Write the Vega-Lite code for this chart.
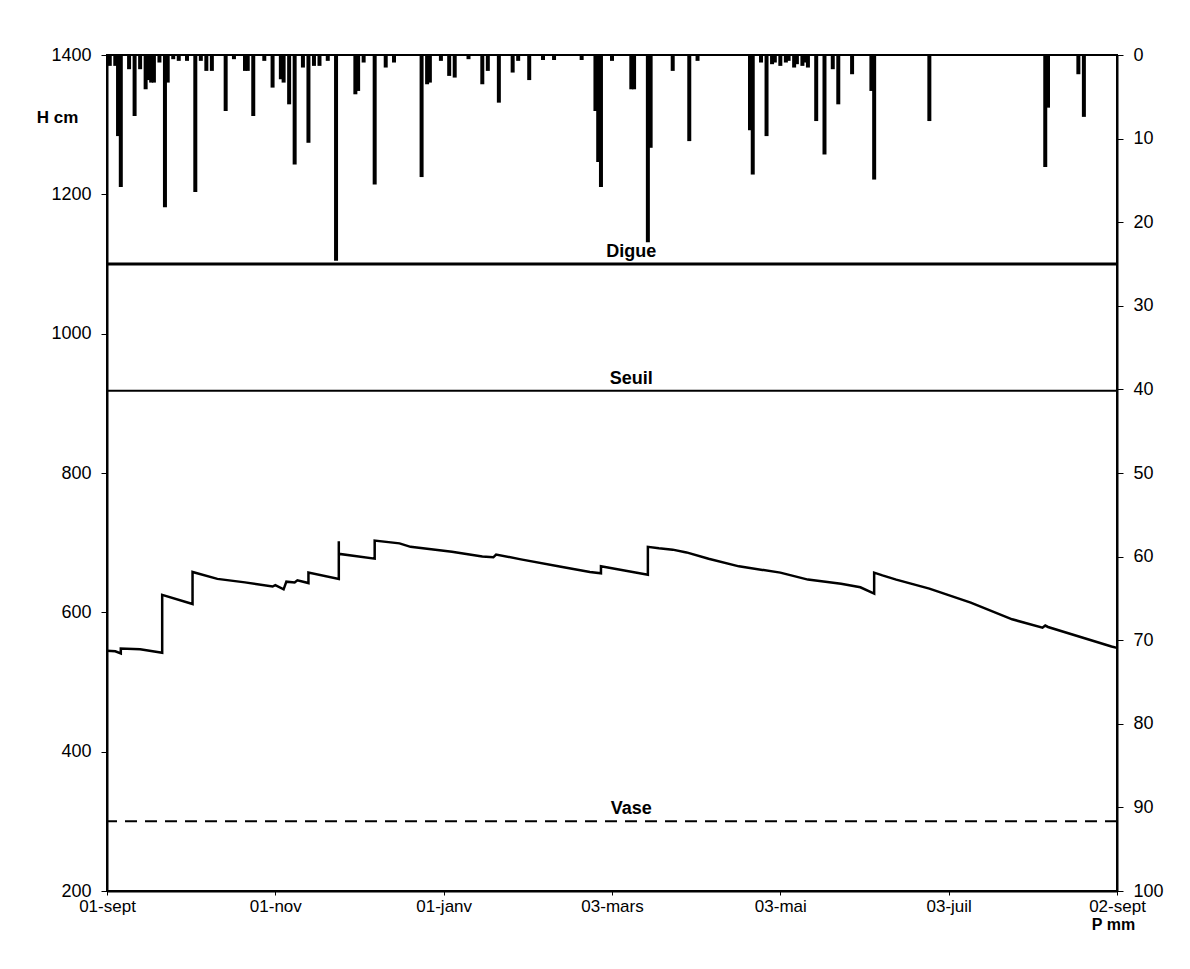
{
  "$schema": "https://vega.github.io/schema/vega-lite/v6.json",
  "width": 1010,
  "height": 836,
  "autosize": {"type": "none"},
  "padding": {"left": 107, "top": 55, "right": 73, "bottom": 78},
  "background": "white",
  "config": {
    "view": {"stroke": "black", "strokeWidth": 2},
    "font": "Liberation Sans",
    "axis": {"domainColor": "black", "domainWidth": 2, "tickColor": "black", "tickWidth": 1, "labelColor": "black", "labelFont": "Liberation Sans", "labelFontSize": 17, "grid": false, "titleColor": "black", "titleFont": "Liberation Sans"}
  },
  "datasets": {
    "level": [
      {"date": "2001-09-01", "H": 545}, {"date": "2001-09-04", "H": 544}, {"date": "2001-09-06", "H": 541}, {"date": "2001-09-06", "H": 548},
      {"date": "2001-09-13", "H": 547}, {"date": "2001-09-21", "H": 542}, {"date": "2001-09-21", "H": 625}, {"date": "2001-10-02", "H": 612},
      {"date": "2001-10-02", "H": 658}, {"date": "2001-10-11", "H": 648}, {"date": "2001-10-21", "H": 643}, {"date": "2001-10-31", "H": 637},
      {"date": "2001-11-01", "H": 639}, {"date": "2001-11-04", "H": 633}, {"date": "2001-11-05", "H": 644}, {"date": "2001-11-08", "H": 643},
      {"date": "2001-11-09", "H": 646}, {"date": "2001-11-13", "H": 642}, {"date": "2001-11-13", "H": 657}, {"date": "2001-11-24", "H": 648},
      {"date": "2001-11-24", "H": 702}, {"date": "2001-11-24", "H": 684}, {"date": "2001-12-07", "H": 677}, {"date": "2001-12-07", "H": 703},
      {"date": "2001-12-16", "H": 699}, {"date": "2001-12-20", "H": 694}, {"date": "2002-01-04", "H": 687}, {"date": "2002-01-15", "H": 680},
      {"date": "2002-01-19", "H": 679}, {"date": "2002-01-20", "H": 683}, {"date": "2002-01-29", "H": 676}, {"date": "2002-02-13", "H": 665},
      {"date": "2002-02-23", "H": 658}, {"date": "2002-02-27", "H": 656}, {"date": "2002-02-27", "H": 666}, {"date": "2002-03-16", "H": 654},
      {"date": "2002-03-16", "H": 694}, {"date": "2002-03-20", "H": 692}, {"date": "2002-03-25", "H": 690}, {"date": "2002-03-30", "H": 686},
      {"date": "2002-04-07", "H": 677}, {"date": "2002-04-18", "H": 666}, {"date": "2002-05-03", "H": 657}, {"date": "2002-05-13", "H": 647},
      {"date": "2002-05-25", "H": 641}, {"date": "2002-06-01", "H": 636}, {"date": "2002-06-06", "H": 627}, {"date": "2002-06-06", "H": 657},
      {"date": "2002-06-09", "H": 653}, {"date": "2002-06-14", "H": 647}, {"date": "2002-06-26", "H": 634}, {"date": "2002-07-11", "H": 614},
      {"date": "2002-07-26", "H": 590}, {"date": "2002-08-06", "H": 578}, {"date": "2002-08-07", "H": 581}, {"date": "2002-08-08", "H": 579},
      {"date": "2002-08-31", "H": 551}, {"date": "2002-09-02", "H": 549}
    ],
    "rain": [
      {"date": "2001-09-02", "P": 1.3}, {"date": "2001-09-04", "P": 1.3}, {"date": "2001-09-05", "P": 9.7}, {"date": "2001-09-06", "P": 15.8},
      {"date": "2001-09-09", "P": 1.7}, {"date": "2001-09-11", "P": 7.3}, {"date": "2001-09-13", "P": 1.7}, {"date": "2001-09-15", "P": 4.1},
      {"date": "2001-09-16", "P": 3.0}, {"date": "2001-09-17", "P": 3.3}, {"date": "2001-09-18", "P": 3.3}, {"date": "2001-09-20", "P": 0.9},
      {"date": "2001-09-22", "P": 18.2}, {"date": "2001-09-23", "P": 3.3}, {"date": "2001-09-25", "P": 0.5}, {"date": "2001-09-27", "P": 0.7},
      {"date": "2001-09-30", "P": 0.7}, {"date": "2001-10-03", "P": 16.4}, {"date": "2001-10-05", "P": 0.7}, {"date": "2001-10-07", "P": 1.9},
      {"date": "2001-10-09", "P": 1.9}, {"date": "2001-10-14", "P": 6.7}, {"date": "2001-10-17", "P": 0.5}, {"date": "2001-10-21", "P": 1.9},
      {"date": "2001-10-22", "P": 1.9}, {"date": "2001-10-24", "P": 7.3}, {"date": "2001-10-28", "P": 0.7}, {"date": "2001-10-31", "P": 3.9},
      {"date": "2001-11-03", "P": 2.9}, {"date": "2001-11-04", "P": 3.3}, {"date": "2001-11-06", "P": 5.9}, {"date": "2001-11-08", "P": 13.1},
      {"date": "2001-11-11", "P": 1.5}, {"date": "2001-11-13", "P": 10.5}, {"date": "2001-11-15", "P": 1.3}, {"date": "2001-11-17", "P": 1.3},
      {"date": "2001-11-20", "P": 0.7}, {"date": "2001-11-23", "P": 24.6}, {"date": "2001-11-30", "P": 4.7}, {"date": "2001-12-01", "P": 4.3},
      {"date": "2001-12-03", "P": 0.9}, {"date": "2001-12-07", "P": 15.5}, {"date": "2001-12-11", "P": 1.5}, {"date": "2001-12-14", "P": 0.9},
      {"date": "2001-12-24", "P": 14.6}, {"date": "2001-12-26", "P": 3.5}, {"date": "2001-12-27", "P": 3.3}, {"date": "2001-12-31", "P": 0.7},
      {"date": "2002-01-03", "P": 2.5}, {"date": "2002-01-05", "P": 2.7}, {"date": "2002-01-10", "P": 0.5}, {"date": "2002-01-15", "P": 3.5},
      {"date": "2002-01-17", "P": 1.9}, {"date": "2002-01-21", "P": 5.7}, {"date": "2002-01-26", "P": 2.1}, {"date": "2002-01-28", "P": 0.7},
      {"date": "2002-02-01", "P": 3.0}, {"date": "2002-02-06", "P": 0.6}, {"date": "2002-02-10", "P": 0.6}, {"date": "2002-02-20", "P": 0.6},
      {"date": "2002-02-25", "P": 6.7}, {"date": "2002-02-26", "P": 12.8}, {"date": "2002-02-27", "P": 15.8}, {"date": "2002-03-03", "P": 0.7},
      {"date": "2002-03-10", "P": 4.1}, {"date": "2002-03-11", "P": 4.1}, {"date": "2002-03-16", "P": 22.4}, {"date": "2002-03-17", "P": 11.1},
      {"date": "2002-03-25", "P": 1.9}, {"date": "2002-03-31", "P": 10.3}, {"date": "2002-04-03", "P": 0.7}, {"date": "2002-04-22", "P": 9.0},
      {"date": "2002-04-23", "P": 14.3}, {"date": "2002-04-26", "P": 0.9}, {"date": "2002-04-28", "P": 9.7}, {"date": "2002-04-30", "P": 1.1},
      {"date": "2002-05-01", "P": 0.9}, {"date": "2002-05-03", "P": 1.3}, {"date": "2002-05-05", "P": 0.9}, {"date": "2002-05-06", "P": 0.7},
      {"date": "2002-05-08", "P": 1.5}, {"date": "2002-05-09", "P": 1.1}, {"date": "2002-05-11", "P": 1.3}, {"date": "2002-05-12", "P": 0.9},
      {"date": "2002-05-13", "P": 1.5}, {"date": "2002-05-16", "P": 7.9}, {"date": "2002-05-19", "P": 11.9}, {"date": "2002-05-22", "P": 1.7},
      {"date": "2002-05-24", "P": 5.9}, {"date": "2002-05-29", "P": 2.3}, {"date": "2002-06-05", "P": 4.3}, {"date": "2002-06-06", "P": 14.9},
      {"date": "2002-06-26", "P": 7.9}, {"date": "2002-08-07", "P": 13.4}, {"date": "2002-08-08", "P": 6.3}, {"date": "2002-08-19", "P": 2.3},
      {"date": "2002-08-21", "P": 7.4}
    ],
    "refs": [
      {"label": "Digue", "H": 1100, "labelDate": "2002-03-10"},
      {"label": "Seuil", "H": 918, "labelDate": "2002-03-10"},
      {"label": "Vase", "H": 300, "labelDate": "2002-03-10"}
    ]
  },
  "layer": [
    {
      "layer": [
        {
          "data": {"name": "level"},
          "mark": {"type": "line", "color": "black", "strokeWidth": 2.5},
          "encoding": {
            "x": {
              "field": "date", "type": "temporal",
              "scale": {"type": "utc", "domain": [{"year": 2001, "month": 9, "date": 1, "utc": true}, {"year": 2002, "month": 9, "date": 2, "utc": true}]},
              "axis": {
                "title": null,
                "values": [
                  {"year": 2001, "month": 9, "date": 1, "utc": true}, {"year": 2001, "month": 11, "date": 1, "utc": true},
                  {"year": 2002, "month": 1, "date": 1, "utc": true}, {"year": 2002, "month": 3, "date": 3, "utc": true},
                  {"year": 2002, "month": 5, "date": 3, "utc": true}, {"year": 2002, "month": 7, "date": 3, "utc": true},
                  {"year": 2002, "month": 9, "date": 2, "utc": true}
                ],
                "labelExpr": "utcFormat(datum.value, '%d') + '-' + ['janv','févr','mars','avr','mai','juin','juil','août','sept','oct','nov','déc'][utcmonth(datum.value)]",
                "tickSize": 4, "labelPadding": 3, "labelFlush": false, "labelOverlap": false, "labelFontSize": 17
              }
            },
            "y": {
              "field": "H", "type": "quantitative",
              "scale": {"domain": [200, 1400], "nice": false},
              "axis": {"title": "H cm", "format": "d", "values": [200, 400, 600, 800, 1000, 1200, 1400], "tickSize": 6, "labelPadding": 10, "labelFontSize": 18,
                "titleAngle": 0, "titleX": -50, "titleY": 62, "titleAlign": "center", "titleBaseline": "middle", "titleFontSize": 17, "titleFontWeight": "bold"}
            },
            "order": {"value": null}
          }
        },
        {
          "data": {"name": "refs"},
          "transform": [{"filter": "datum.label === 'Digue'"}],
          "mark": {"type": "rule", "color": "black", "strokeWidth": 3},
          "encoding": {"y": {"field": "H", "type": "quantitative"}}
        },
        {
          "data": {"name": "refs"},
          "transform": [{"filter": "datum.label === 'Seuil'"}],
          "mark": {"type": "rule", "color": "black", "strokeWidth": 2},
          "encoding": {"y": {"field": "H", "type": "quantitative"}}
        },
        {
          "data": {"name": "refs"},
          "transform": [{"filter": "datum.label === 'Vase'"}],
          "mark": {"type": "rule", "color": "black", "strokeWidth": 2, "strokeDash": [12, 8]},
          "encoding": {"y": {"field": "H", "type": "quantitative"}}
        },
        {
          "data": {"name": "refs"},
          "mark": {"type": "text", "color": "black", "fontWeight": "bold", "fontSize": 18, "baseline": "bottom", "align": "center", "dy": -3},
          "encoding": {
            "x": {"field": "labelDate", "type": "temporal"},
            "y": {"field": "H", "type": "quantitative"},
            "text": {"field": "label"}
          }
        }
      ]
    },
    {
      "data": {"name": "rain"},
      "mark": {"type": "rule", "color": "black", "strokeWidth": 4, "strokeCap": "butt"},
      "encoding": {
        "x": {"field": "date", "type": "temporal"},
        "y": {
          "field": "P", "type": "quantitative",
          "scale": {"domain": [0, 100], "reverse": true, "nice": false},
          "axis": {"orient": "right", "title": "P mm", "values": [0, 10, 20, 30, 40, 50, 60, 70, 80, 90, 100], "tickSize": 6, "labelPadding": 10, "labelFontSize": 18,
            "titleAngle": 0, "titleX": -4, "titleY": 869, "titleAlign": "center", "titleBaseline": "middle", "titleFontSize": 16, "titleFontWeight": "bold"}
        },
        "y2": {"datum": 0}
      }
    }
  ],
  "resolve": {"scale": {"y": "independent"}, "axis": {"y": "independent"}}
}
